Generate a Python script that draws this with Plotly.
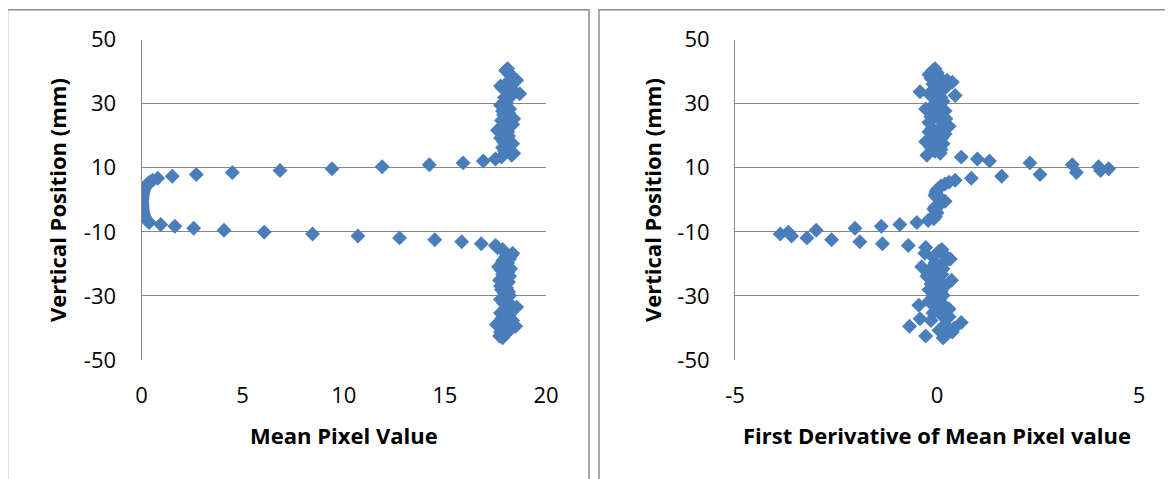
import plotly.graph_objects as go

# Vertical position of each sample (mm), shared by both charts
POSITION_MM = [
    -43.1, -42.5, -41.9, -41.3, -40.7, -40.1, -39.5, -38.9, -38.3, -37.7,
    -37.1, -36.5, -35.9, -35.3, -34.7, -34.1, -33.5, -32.9, -32.3, -31.7,
    -31.1, -30.5, -29.9, -29.3, -28.7, -28.1, -27.5, -26.9, -26.3, -25.7,
    -25.1, -24.5, -23.9, -23.3, -22.7, -22.1, -21.5, -20.9, -20.3, -19.7,
    -19.1, -18.5, -17.9, -17.3, -16.7, -16.1, -15.5, -14.9, -14.3, -13.7,
    -13.1, -12.5, -11.9, -11.3, -10.7, -10.1, -9.5, -8.9, -8.3, -7.7,
    -7.1, -6.5, -5.9, -5.3, -4.7, -4.1, -3.5, -2.9, -2.3, -1.7,
    -1.1, -0.5, 0.1, 0.7, 1.3, 1.9, 2.5, 3.1, 3.7, 4.3,
    4.9, 5.5, 6.1, 6.7, 7.3, 7.9, 8.5, 9.1, 9.7, 10.3,
    10.9, 11.5, 12.1, 12.7, 13.3, 13.9, 14.5, 15.1, 15.7, 16.3,
    16.9, 17.5, 18.1, 18.7, 19.3, 19.9, 20.5, 21.1, 21.7, 22.3,
    22.9, 23.5, 24.1, 24.7, 25.3, 25.9, 26.5, 27.1, 27.7, 28.3,
    28.9, 29.5, 30.1, 30.7, 31.3, 31.9, 32.5, 33.1, 33.7, 34.3,
    34.9, 35.5, 36.1, 36.7, 37.3, 37.9, 38.5, 39.1, 39.7, 40.3,
    40.9,
]

MEAN_PIXEL = [
    17.85, 17.7, 18.0, 17.75, 18.2, 17.9, 18.5, 17.55, 18.1, 18.35,
    17.8, 18.0, 18.2, 17.75, 18.05, 18.3, 18.55, 18.2, 17.9, 18.1,
    17.75, 18.0, 18.2, 17.95, 18.15, 17.8, 18.05, 17.75, 17.9, 18.15,
    17.7, 18.0, 18.2, 17.85, 18.1, 17.8, 18.25, 17.65, 17.95, 18.1,
    17.85, 18.2, 18.0, 18.3, 18.35, 17.9, 17.85, 17.6, 17.5, 16.8,
    15.83, 14.5, 12.76, 10.7, 8.46, 6.07, 4.08, 2.58, 1.65, 0.95,
    0.38, 0.28, 0.2, 0.15, 0.11, 0.08, 0.06, 0.05, 0.04, 0.03,
    0.03, 0.03, 0.03, 0.04, 0.05, 0.07, 0.09, 0.12, 0.16, 0.22,
    0.3, 0.4, 0.55, 0.8, 1.52, 2.71, 4.49, 6.85, 9.42, 11.9,
    14.23, 15.9, 16.9, 17.5, 17.8, 18.3, 18.4, 17.95, 18.1, 17.85,
    18.2, 18.35, 17.9, 18.05, 17.75, 18.15, 17.9, 18.1, 17.6, 17.85,
    18.2, 18.35, 18.0, 17.8, 18.4, 18.1, 17.9, 18.15, 17.85, 18.2,
    17.95, 17.75, 18.05, 18.0, 18.1, 17.95, 18.3, 18.7, 18.45, 18.1,
    17.85, 17.75, 18.0, 18.35, 18.55, 18.4, 18.3, 18.2, 18.15, 18.0,
    18.1,
]

FIRST_DERIVATIVE = [
    0.15, -0.28, 0.25, 0.38, 0.05, 0.42, -0.68, 0.2, 0.6, -0.15,
    -0.42, 0.3, 0.1, -0.1, 0.22, 0.3, -0.05, -0.45, 0.12, -0.2,
    0.05, -0.1, 0.15, -0.05, 0.1, -0.2, 0.05, 0.2, -0.15, 0.1,
    0.36, -0.1, -0.25, 0.12, 0.05, -0.2, 0.15, -0.38, 0.1, -0.05,
    0.22, 0.33, -0.1, 0.2, -0.3, 0.05, 0.12, -0.28, -0.71, -1.35,
    -1.91, -2.61, -3.22, -3.6, -3.88, -3.68, -2.99, -2.03, -1.38, -0.92,
    -0.5, -0.22, -0.08, -0.04, -0.06, 0.0, -0.03, -0.08, -0.05, 0.05,
    0.1, 0.2, 0.12, 0.0, -0.05, -0.03, -0.02, 0.0, 0.05, 0.1,
    0.2, 0.3, 0.45, 0.85, 1.6, 2.55, 3.45, 4.05, 4.25, 4.0,
    3.35, 2.3, 1.3, 1.0, 0.6, -0.25, 0.08, -0.05, 0.1, -0.15,
    0.05, 0.15, -0.28, 0.0, 0.12, -0.1, 0.2, -0.2, 0.05, -0.12,
    0.3, 0.15, -0.2, 0.1, 0.22, -0.15, 0.05, -0.05, 0.2, -0.28,
    0.1, -0.1, 0.05, 0.15, -0.05, 0.1, 0.45, -0.2, -0.42, 0.0,
    0.2, 0.1, -0.1, 0.38, 0.25, -0.15, 0.05, -0.2, 0.0, -0.1,
    -0.05,
]

Y_TICKS = [-50, -30, -10, 10, 30, 50]
X1_TICKS = [0, 5, 10, 15, 20]
X2_TICKS = [-5, 0, 5]

W, H = 1173, 479
PAGE_MARGIN = 8  # the page body adds an 8px offset, take it off here
BLUE = "#4a7ebb"
GRID = "#868686"
BORDER = "#8c8c8c"
TICK_FONT = dict(family="Open Sans", size=22, color="black")
TITLE_FONT = dict(family="Open Sans", size=22, color="black", weight="bold")


def px_x(v):
    return (v - PAGE_MARGIN) / W


def px_y(v):
    return 1 - (v - PAGE_MARGIN) / H


def main():
    fig = go.Figure()
    marker = dict(symbol="diamond", size=11.5, color=BLUE, line=dict(width=0))
    fig.add_trace(go.Scatter(x=MEAN_PIXEL, y=POSITION_MM, mode="markers",
                             marker=marker, xaxis="x", yaxis="y"))
    fig.add_trace(go.Scatter(x=FIRST_DERIVATIVE, y=POSITION_MM, mode="markers",
                             marker=marker, xaxis="x2", yaxis="y2"))

    y_dom = [px_y(360), px_y(39.5)]
    # plain hyphens on the labels, like the original
    xcommon = dict(showgrid=False, zeroline=False, showline=False, ticks="",
                   automargin=False, tickfont=TICK_FONT, ticklabelstandoff=20)
    ycommon = dict(range=[-50, 50], tickvals=Y_TICKS, ticktext=[str(v) for v in Y_TICKS],
                   showgrid=True, gridcolor=GRID, gridwidth=1, zeroline=False,
                   showline=True, linecolor=GRID, linewidth=1, ticks="",
                   automargin=False, tickfont=TICK_FONT, ticklabelstandoff=20)

    fig.update_layout(
        width=W, height=H,
        margin=dict(l=0, r=0, t=0, b=0),
        paper_bgcolor="white", plot_bgcolor="white",
        showlegend=False,
        xaxis=dict(domain=[px_x(141.5), px_x(546)], range=[0, 20], tickvals=X1_TICKS,
                   ticktext=[str(v) for v in X1_TICKS], anchor="y", **xcommon),
        yaxis=dict(domain=y_dom, anchor="x", **ycommon),
        xaxis2=dict(domain=[px_x(735), px_x(1139)], range=[-5, 5], tickvals=X2_TICKS,
                    ticktext=[str(v) for v in X2_TICKS], anchor="y2", **xcommon),
        yaxis2=dict(domain=y_dom, anchor="x2", **ycommon),
    )

    # axis titles
    titles = [
        ("Mean Pixel Value", 343.7, 435, 0),
        ("First Derivative of Mean Pixel value", 937, 435, 0),
        ("Vertical Position (mm)", 57, 200, -90),
        ("Vertical Position (mm)", 652, 200, -90),
    ]
    for text, x, y, ang in titles:
        fig.add_annotation(text=text, x=px_x(x), y=px_y(y), xref="paper", yref="paper",
                           showarrow=False, textangle=ang, font=TITLE_FONT,
                           xanchor="center", yanchor="middle")

    # chart area borders (bottom edge is cut off)
    for x0, x1 in [(7.5, 589), (599, 1190)]:
        fig.add_shape(type="rect", xref="paper", yref="paper",
                      x0=px_x(x0), x1=px_x(x1), y0=px_y(500), y1=px_y(9.7),
                      line=dict(color=BORDER, width=1.5), fillcolor="rgba(0,0,0,0)")

    fig.write_html("out.html")


if __name__ == '__main__':
    main()
